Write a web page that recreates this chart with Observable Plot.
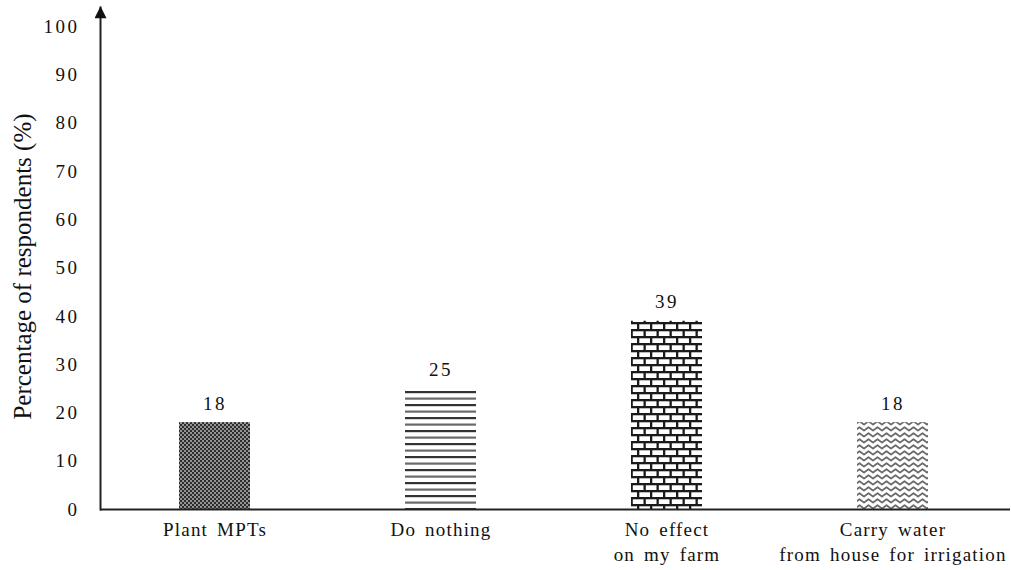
<!DOCTYPE html>
<html>
<head>
<meta charset="utf-8">
<script src="https://cdn.jsdelivr.net/npm/d3@7"></script>
<script src="https://cdn.jsdelivr.net/npm/@observablehq/plot@0.6"></script>
<style>
  html, body { margin: 0; padding: 0; background: #fff; }
</style>
</head>
<body>
<div id="chart"></div>
<script>
// ---- data ----
const categories = ["Plant MPTs", "Do nothing", "No effect on my farm", "Carry water from house for irrigation"];
const values = [18, 25, 39, 18];
const tickLabels = ["Plant MPTs", "Do nothing", "No effect\non my farm", "Carry water\nfrom house for irrigation"];
const yTicks = [0, 10, 20, 30, 40, 50, 60, 70, 80, 90, 100];
const yTitle = "Percentage of respondents (%)";

// ---- styles (pattern fills per category) ----
const patternUrls = ["url(#pat-check)", "url(#pat-lines)", "url(#pat-brick)", "url(#pat-zigzag)"];

const data = categories.map((c, i) => ({category: c, value: values[i]}));
const serif = "'Liberation Serif', 'DejaVu Serif', serif";

const chart = Plot.plot({
  width: 1011,
  height: 570,
  marginLeft: 100,
  marginRight: 1,
  marginTop: 7,
  marginBottom: 61,
  style: {fontFamily: serif, fontSize: "19px", background: "#fff", color: "#111"},
  x: {domain: categories, paddingInner: 0.686, paddingOuter: 0.354, align: 0.49, label: null, axis: null},
  y: {domain: [0, 104], label: null, axis: null},
  color: {domain: categories, range: patternUrls},
  marks: [
    Plot.barY(data, {x: "category", y: "value", fill: "category"}),
    Plot.text(data, {x: "category", y: "value", text: d => String(d.value), dy: -19, lineAnchor: "middle", fontSize: 19}),
    Plot.axisY({ticks: yTicks, tickSize: 0, tickPadding: 21, fontSize: 19, label: null}),
    Plot.axisX({tickSize: 0, tickPadding: 9, fontSize: 19, lineHeight: 1.3, label: null,
      tickFormat: d => tickLabels[categories.indexOf(d)]}),
    Plot.text([yTitle], {frameAnchor: "left", textAnchor: "middle", rotate: -90, dx: -78, dy: 8, fontSize: 25}),
    Plot.ruleY([0], {stroke: "#222", strokeWidth: 2, ariaLabel: "x-line"}),
    Plot.frame({anchor: "left", stroke: "#222", strokeWidth: 2, ariaLabel: "y-line"})
  ]
});

document.getElementById("chart").appendChild(chart);

// ---- defs: patterns and arrow marker ----
const svg = d3.select(chart);
const defs = svg.insert("defs", ":first-child");

// dense checker (Plant MPTs)
const p1 = defs.append("pattern").attr("id", "pat-check").attr("patternUnits", "userSpaceOnUse")
  .attr("width", 4).attr("height", 4);
p1.append("rect").attr("width", 4).attr("height", 4).attr("fill", "#949494");
p1.append("rect").attr("x", 0).attr("y", 0).attr("width", 2).attr("height", 2).attr("fill", "#2c2c2c");
p1.append("rect").attr("x", 2).attr("y", 2).attr("width", 2).attr("height", 2).attr("fill", "#2c2c2c");

// horizontal lines (Do nothing)
const p2 = defs.append("pattern").attr("id", "pat-lines").attr("patternUnits", "userSpaceOnUse")
  .attr("width", 10).attr("height", 13);
p2.append("rect").attr("width", 10).attr("height", 13).attr("fill", "#fff");
p2.append("rect").attr("y", 1).attr("width", 10).attr("height", 2.2).attr("fill", "#333");
p2.append("rect").attr("y", 7.5).attr("width", 10).attr("height", 2.2).attr("fill", "#6a6a6a");

// brick (No effect)
const p3 = defs.append("pattern").attr("id", "pat-brick").attr("patternUnits", "userSpaceOnUse")
  .attr("width", 26).attr("height", 14);
p3.append("rect").attr("width", 26).attr("height", 14).attr("fill", "#fff");
p3.append("rect").attr("x", 0).attr("y", 0).attr("width", 26).attr("height", 2.3).attr("fill", "#1a1a1a");
p3.append("rect").attr("x", 0).attr("y", 7).attr("width", 26).attr("height", 2.3).attr("fill", "#1a1a1a");
p3.append("rect").attr("x", 0).attr("y", 0).attr("width", 2.3).attr("height", 7).attr("fill", "#1a1a1a");
p3.append("rect").attr("x", 13).attr("y", 0).attr("width", 2.3).attr("height", 7).attr("fill", "#1a1a1a");
p3.append("rect").attr("x", 6.5).attr("y", 7).attr("width", 2.3).attr("height", 7).attr("fill", "#1a1a1a");
p3.append("rect").attr("x", 19.5).attr("y", 7).attr("width", 2.3).attr("height", 7).attr("fill", "#1a1a1a");

// zigzag waves (Carry water)
const p4 = defs.append("pattern").attr("id", "pat-zigzag").attr("patternUnits", "userSpaceOnUse")
  .attr("width", 9).attr("height", 6);
p4.append("rect").attr("width", 9).attr("height", 6).attr("fill", "#fff");
p4.append("path").attr("d", "M-2.25,2.5 L0,4.5 L4.5,1.2 L9,4.5 L11.25,2.5")
  .attr("fill", "none").attr("stroke", "#6a6a6a").attr("stroke-width", 1.8).attr("stroke-linejoin", "round");

// arrowhead marker
defs.append("marker").attr("id", "arrowhead")
  .attr("viewBox", "0 0 10 10").attr("refX", 9).attr("refY", 5)
  .attr("markerUnits", "userSpaceOnUse").attr("markerWidth", 13).attr("markerHeight", 12)
  .attr("orient", "auto-start-reverse")
  .append("path").attr("d", "M0,0 L10,5 L0,10 z").attr("fill", "#111");

// attach arrowheads to the axis lines at their far ends
svg.selectAll('g[aria-label="x-line"] line, g[aria-label="y-line"] line, line[aria-label="y-line"]').each(function () {
  const el = d3.select(this);
  const x1 = +el.attr("x1"), x2 = +el.attr("x2"), y1 = +el.attr("y1"), y2 = +el.attr("y2");
  const horizontal = Math.abs(y1 - y2) < Math.abs(x1 - x2);
  if (horizontal) {
    el.attr(x2 > x1 ? "marker-end" : "marker-start", "url(#arrowhead)");
  } else {
    el.attr(y1 < y2 ? "marker-start" : "marker-end", "url(#arrowhead)");
  }
});

// letter spacing (spaced-type look of the original)
svg.selectAll("text").attr("letter-spacing", "2.5px");
svg.selectAll('g[aria-label="x-axis tick label"] text')
  .attr("letter-spacing", "1.2px").attr("word-spacing", "3px");
svg.selectAll("text").filter(function () { return this.textContent === yTitle; })
  .attr("letter-spacing", "0px");
</script>
</body>
</html>
